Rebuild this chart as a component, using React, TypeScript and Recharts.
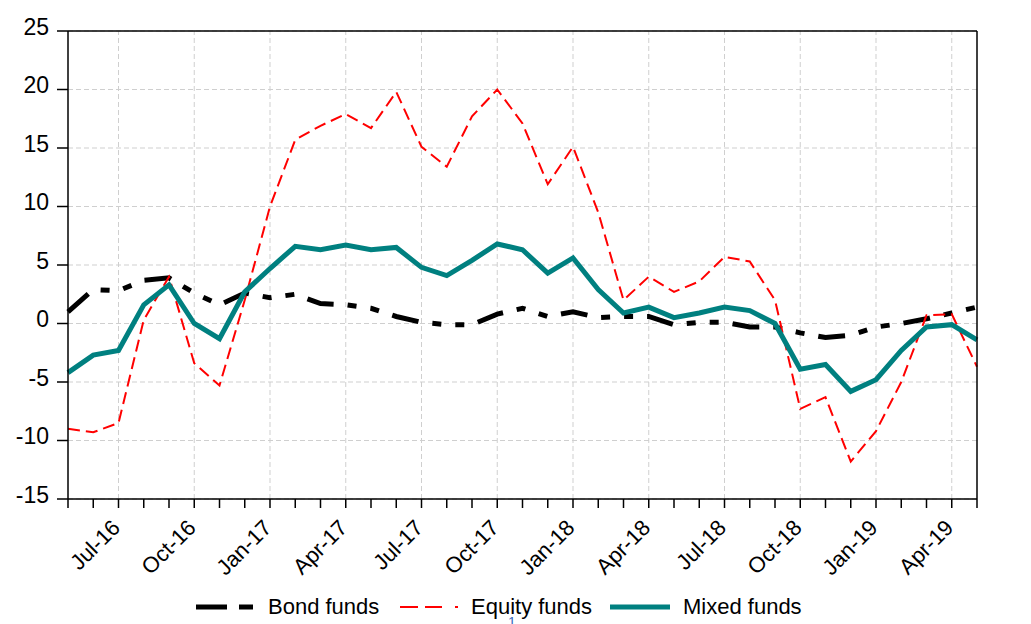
import React from 'react';
import { LineChart, Line, XAxis, YAxis, CartesianGrid, Legend, ReferenceLine } from 'recharts';

const months = [
  'May-16', 'Jun-16', 'Jul-16', 'Aug-16', 'Sep-16', 'Oct-16', 'Nov-16', 'Dec-16',
  'Jan-17', 'Feb-17', 'Mar-17', 'Apr-17', 'May-17', 'Jun-17', 'Jul-17', 'Aug-17',
  'Sep-17', 'Oct-17', 'Nov-17', 'Dec-17', 'Jan-18', 'Feb-18', 'Mar-18', 'Apr-18',
  'May-18', 'Jun-18', 'Jul-18', 'Aug-18', 'Sep-18', 'Oct-18', 'Nov-18', 'Dec-18',
  'Jan-19', 'Feb-19', 'Mar-19', 'Apr-19', 'May-19',
];

const quarterLabels = [
  'Jul-16', 'Oct-16', 'Jan-17', 'Apr-17', 'Jul-17', 'Oct-17',
  'Jan-18', 'Apr-18', 'Jul-18', 'Oct-18', 'Jan-19', 'Apr-19',
];

const bondFunds = [
  1.0, 2.9, 2.8, 3.7, 3.9, 2.6, 1.6, 2.6,
  2.2, 2.5, 1.7, 1.6, 1.3, 0.6, 0.1, -0.1,
  -0.1, 0.8, 1.3, 0.6, 1.0, 0.5, 0.6, 0.6,
  -0.1, 0.1, 0.1, -0.3, -0.3, -0.8, -1.2, -1.0,
  -0.3, 0.0, 0.4, 0.9, 1.4,
];

const equityFunds = [
  -9.0, -9.3, -8.5, 0.3, 4.0, -3.4, -5.3, 2.0,
  10.0, 15.7, 16.9, 17.9, 16.7, 19.8, 15.1, 13.4,
  17.7, 20.0, 17.1, 11.9, 15.1, 9.5, 2.0, 4.0,
  2.7, 3.6, 5.7, 5.3, 2.0, -7.3, -6.3, -11.8,
  -9.2, -5.0, 0.7, 0.8, -3.7,
];

const mixedFunds = [
  -4.2, -2.7, -2.3, 1.6, 3.3, 0.0, -1.3, 2.7,
  4.7, 6.6, 6.3, 6.7, 6.3, 6.5, 4.8, 4.1,
  5.4, 6.8, 6.3, 4.3, 5.6, 2.9, 0.9, 1.4,
  0.5, 0.9, 1.4, 1.1, 0.0, -3.9, -3.5, -5.8,
  -4.8, -2.3, -0.3, -0.1, -1.4,
];

const yTicks = [-15, -10, -5, 0, 5, 10, 15, 20, 25];

const data = months.map((m, i) => ({
  month: m,
  bond: bondFunds[i],
  equity: equityFunds[i],
  mixed: mixedFunds[i],
}));

const FONT = '"Liberation Sans", Arial, sans-serif';
const BOND_COLOR = '#000000';
const EQUITY_COLOR = '#ff0000';
const MIXED_COLOR = '#008080';
const GRID_COLOR = '#cfcfcf';

const XTick = (props: any) => {
  const { x, y, payload } = props;
  if (!quarterLabels.includes(payload.value)) return null;
  const ex = x + 3;
  const ey = y + 21;
  return (
    <text
      x={ex}
      y={ey}
      transform={`rotate(-45, ${ex}, ${ey})`}
      textAnchor="end"
      fontSize={22}
      fontFamily={FONT}
      fill="#000"
    >
      {payload.value}
    </text>
  );
};

const YTickLeft = (props: any) => {
  const { x, y, payload } = props;
  return (
    <text x={x} y={y - 4.5} dy="0.355em" textAnchor="end" fontSize={23} fontFamily={FONT} fill="#000">
      {payload.value}
    </text>
  );
};

const YTickRight = (props: any) => {
  const { x, y, payload } = props;
  return (
    <text x={x} y={y - 4.5} dy="0.355em" textAnchor="start" fontSize={23} fontFamily={FONT} fill="#000">
      {payload.value}
    </text>
  );
};

const LegendContent = () => {
  const textStyle: React.CSSProperties = {
    position: 'absolute',
    top: 0,
    height: 34,
    lineHeight: '34px',
    fontSize: 22,
    fontFamily: FONT,
    color: '#000',
    whiteSpace: 'nowrap',
  };
  const sampleStyle: React.CSSProperties = { position: 'absolute', top: 0 };
  return (
    <div style={{ position: 'relative', width: 1031, height: 34 }}>
      <svg style={{ ...sampleStyle, left: 196 }} width={58} height={34}>
        <line x1={0} y1={17} x2={57} y2={17} stroke={BOND_COLOR} strokeWidth={5} strokeDasharray="31 12 14 20" />
      </svg>
      <span style={{ ...textStyle, left: 268 }}>Bond funds</span>
      <svg style={{ ...sampleStyle, left: 400 }} width={60} height={34}>
        <line x1={0} y1={17} x2={59} y2={17} stroke={EQUITY_COLOR} strokeWidth={2} strokeDasharray="18 7 17 13 3 100" />
      </svg>
      <span style={{ ...textStyle, left: 471 }}>Equity funds</span>
      <svg style={{ ...sampleStyle, left: 610 }} width={61} height={34}>
        <line x1={0} y1={17} x2={60} y2={17} stroke={MIXED_COLOR} strokeWidth={5} />
      </svg>
      <span style={{ ...textStyle, left: 683 }}>Mixed funds</span>
      <span
        style={{
          position: 'absolute',
          left: 508,
          top: 25,
          fontSize: 14,
          lineHeight: '14px',
          fontFamily: FONT,
          color: '#3a6bc0',
        }}
      >
        1
      </span>
    </div>
  );
};

export default function App() {
  return (
    <div style={{ position: 'absolute', left: 0, top: 0, width: 1031, height: 624, background: '#fff', overflow: 'hidden' }}>
      <LineChart width={1031} height={624} data={data} margin={{ top: 31, right: 0, bottom: 0, left: 0 }}>
        <CartesianGrid yAxisId="left" vertical={false} stroke={GRID_COLOR} strokeDasharray="5 3" />
        {quarterLabels.map((q) => (
          <ReferenceLine key={q} x={q} yAxisId="left" stroke={GRID_COLOR} strokeDasharray="5 3" />
        ))}
        <ReferenceLine y={25} yAxisId="left" stroke="#000" strokeWidth={1.5} />
        <XAxis
          dataKey="month"
          interval={0}
          tickSize={9}
          tickMargin={0}
          tick={<XTick />}
          tickLine={{ stroke: '#000', strokeWidth: 1.5 }}
          axisLine={{ stroke: '#000', strokeWidth: 1.5 }}
          height={91}
          padding={{ left: 0, right: 0 }}
        />
        <YAxis
          yAxisId="left"
          domain={[-15, 25]}
          ticks={yTicks}
          interval={0}
          width={68}
          tickSize={11}
          tickMargin={8}
          tick={<YTickLeft />}
          tickLine={{ stroke: '#000', strokeWidth: 1.5 }}
          axisLine={{ stroke: '#000', strokeWidth: 1.5 }}
        />
        <YAxis
          yAxisId="right"
          orientation="right"
          domain={[-15, 25]}
          ticks={yTicks}
          interval={0}
          width={54}
          tickSize={11}
          tickMargin={10}
          tick={<YTickRight />}
          tickLine={{ stroke: '#000', strokeWidth: 1.5 }}
          axisLine={{ stroke: '#000', strokeWidth: 1.5 }}
        />
        <Legend verticalAlign="bottom" align="left" content={<LegendContent />} />
        <Line
          yAxisId="left"
          dataKey="bond"
          name="Bond funds"
          stroke={BOND_COLOR}
          strokeWidth={5}
          strokeDasharray="27 14 9 14 9 14"
          dot={false}
          activeDot={false}
          isAnimationActive={false}
          type="linear"
        />
        <Line
          yAxisId="left"
          dataKey="equity"
          name="Equity funds"
          stroke={EQUITY_COLOR}
          strokeWidth={2}
          strokeDasharray="12 6"
          dot={false}
          activeDot={false}
          isAnimationActive={false}
          type="linear"
        />
        <Line
          yAxisId="left"
          dataKey="mixed"
          name="Mixed funds"
          stroke={MIXED_COLOR}
          strokeWidth={5}
          dot={false}
          activeDot={false}
          isAnimationActive={false}
          type="linear"
        />
      </LineChart>
    </div>
  );
}
